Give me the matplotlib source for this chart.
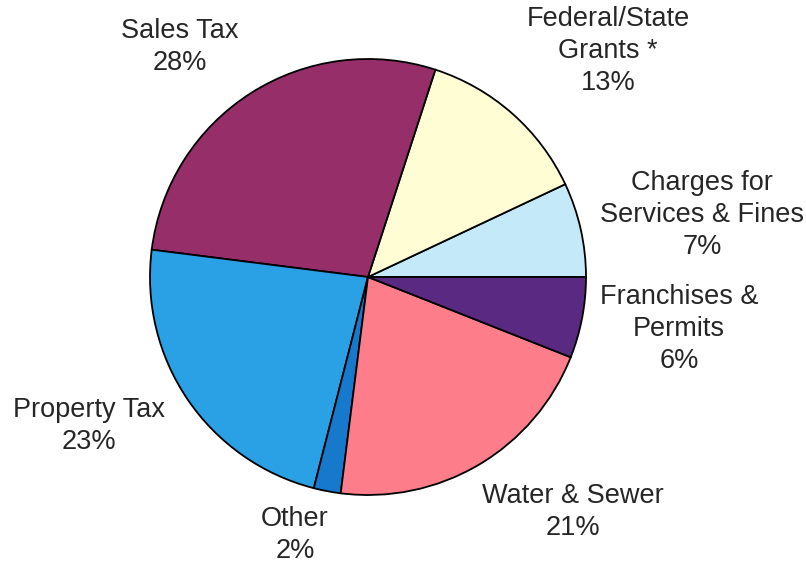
import matplotlib.pyplot as plt

# revenue sources, counter-clockwise from 3 o'clock
categories = ["Charges for\nServices & Fines", "Federal/State\nGrants *", "Sales Tax",
              "Property Tax", "Other", "Water & Sewer", "Franchises &\nPermits"]
shares = [7, 13, 28, 23, 2, 21, 6]
colors = ["#C4EAF9", "#FEFDD3", "#962E6A", "#2AA0E5", "#1679CC", "#FD7E8A", "#5A2A82"]

# label block centres in figure pixels (x from left, y from top)
label_pos = [(702, 215), (608, 51), (180, 47), (89, 426), (295, 535), (573, 512), (679, 329)]

W, H = 806, 564
fig = plt.figure(figsize=(W / 100, H / 100), dpi=100)
ax = fig.add_axes([0, 0, 1, 1])

ax.pie(shares, colors=colors, startangle=0, counterclock=True,
       center=(368, H - 277), radius=218,
       wedgeprops={'edgecolor': 'black', 'linewidth': 1.3})

total = sum(shares)
for name, val, (x, y) in zip(categories, shares, label_pos):
    ax.text(x, H - y, "{}\n{:.0f}%".format(name, 100 * val / total),
            ha='center', va='center', multialignment='center',
            fontsize=19.5, linespacing=1.28, color='#262626',
            family=['Liberation Sans', 'DejaVu Sans'])

ax.set_xlim(0, W)
ax.set_ylim(0, H)
ax.set_aspect('equal')
ax.axis('off')

fig.savefig('out.png', dpi=100, facecolor='white')
